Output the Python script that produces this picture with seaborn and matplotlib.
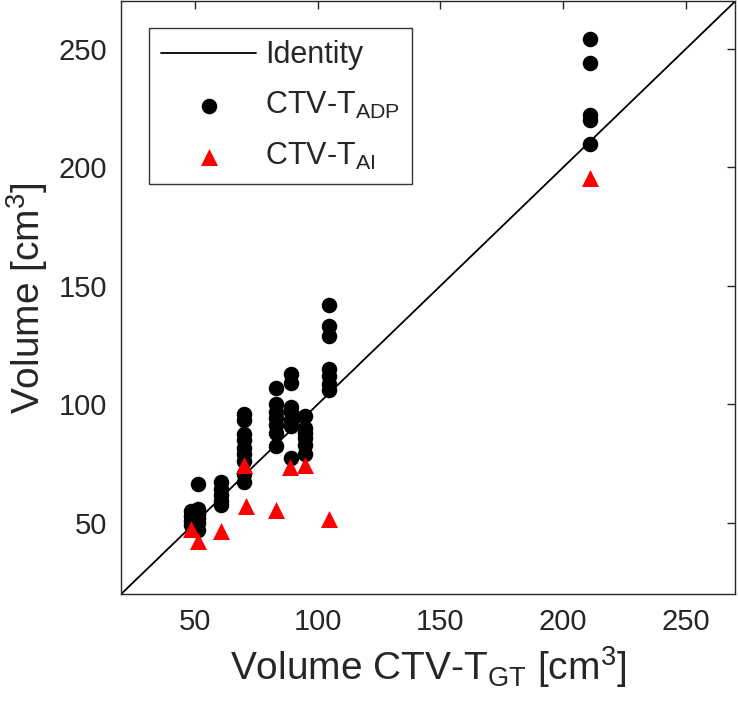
import numpy as np
import pandas as pd
import matplotlib
matplotlib.use('Agg')
import matplotlib.pyplot as plt
import seaborn as sns

sns.set_style("white")
plt.rcParams['font.family'] = ['Liberation Sans', 'DejaVu Sans']
plt.rcParams['mathtext.fontset'] = 'custom'
plt.rcParams['mathtext.rm'] = 'Liberation Sans'
plt.rcParams['mathtext.it'] = 'Liberation Sans:italic'

# ground truth volume per case, repeated for each ADP contour
gt_adp = [48.5] * 4 + [51.5] * 6 + [60.5] * 5 + [70.2] * 9 + [83] * 7 + [89] * 7 + [95] * 6 + [104.5] * 7 + [211] * 5
vol_adp = [55, 53, 51, 49,
           66.5, 56, 54, 52, 50, 47,
           67.5, 64.5, 62, 59.5, 57.5,
           96, 93.5, 87.5, 85, 81.5, 79, 76, 70.5, 67.5,
           107, 100, 97, 94.5, 91.5, 88, 82.5,
           113, 109, 99, 97, 93.5, 91, 77.5,
           95, 90, 88, 86, 83, 79,
           142, 133, 129, 115, 112, 108.5, 106,
           254, 244, 222, 220, 210]

gt_ai = [48.5, 51.5, 60.5, 70.2, 70.8, 83, 88.8, 95, 104.5, 211]
vol_ai = [47.5, 42.5, 46.5, 74.5, 57, 55.5, 73.5, 74.5, 51.5, 195.5]

identity = [20, 270]

df_adp = pd.DataFrame({'gt': gt_adp, 'vol': vol_adp})
df_ai = pd.DataFrame({'gt': gt_ai, 'vol': vol_ai})
df_id = pd.DataFrame({'gt': identity, 'vol': identity})

fig = plt.figure(figsize=(7.38, 7.15), dpi=100)
ax = fig.add_axes([0.164, 0.169, 0.832, 0.829])

sns.lineplot(x='gt', y='vol', data=df_id, ax=ax, color='black', lw=1.3, label='Identity', zorder=1)
sns.scatterplot(x='gt', y='vol', data=df_adp, ax=ax, color='black', marker='o', s=125,
                edgecolor='black', linewidth=0, label=r'CTV-T$_{\mathrm{ADP}}$', zorder=2)
sns.scatterplot(x='gt', y='vol', data=df_ai, ax=ax, color='red', marker='^', s=150,
                edgecolor='red', linewidth=0, label=r'CTV-T$_{\mathrm{AI}}$', zorder=3)

ax.set_xlim(20, 270)
ax.set_ylim(20, 270)
ax.set_xticks([50, 100, 150, 200, 250])
ax.set_yticks([50, 100, 150, 200, 250])

# matlab style box with inward ticks all round
grey = '#262626'
for sp in ax.spines.values():
    sp.set_color(grey)
    sp.set_linewidth(1.0)
ax.tick_params(direction='in', length=6, width=1, colors=grey, labelsize=21,
               top=True, right=True, pad=10)
for lbl in ax.get_xticklabels() + ax.get_yticklabels():
    lbl.set_color(grey)

ax.set_xlabel(r'Volume CTV-T$_{\mathrm{GT}}$ [cm$^3$]', fontsize=28, color=grey, labelpad=6)
ax.set_ylabel(r'Volume [cm$^3$]', fontsize=28, color=grey, labelpad=6)

leg = ax.legend(loc='upper left', bbox_to_anchor=(0.046, 0.955), borderaxespad=0,
                fontsize=22, frameon=True, fancybox=False, edgecolor='black',
                handlelength=3.1, handletextpad=0.3, labelspacing=0.65, borderpad=0.4)
leg.get_frame().set_linewidth(1.0)

fig.savefig('out.png', dpi=100)
